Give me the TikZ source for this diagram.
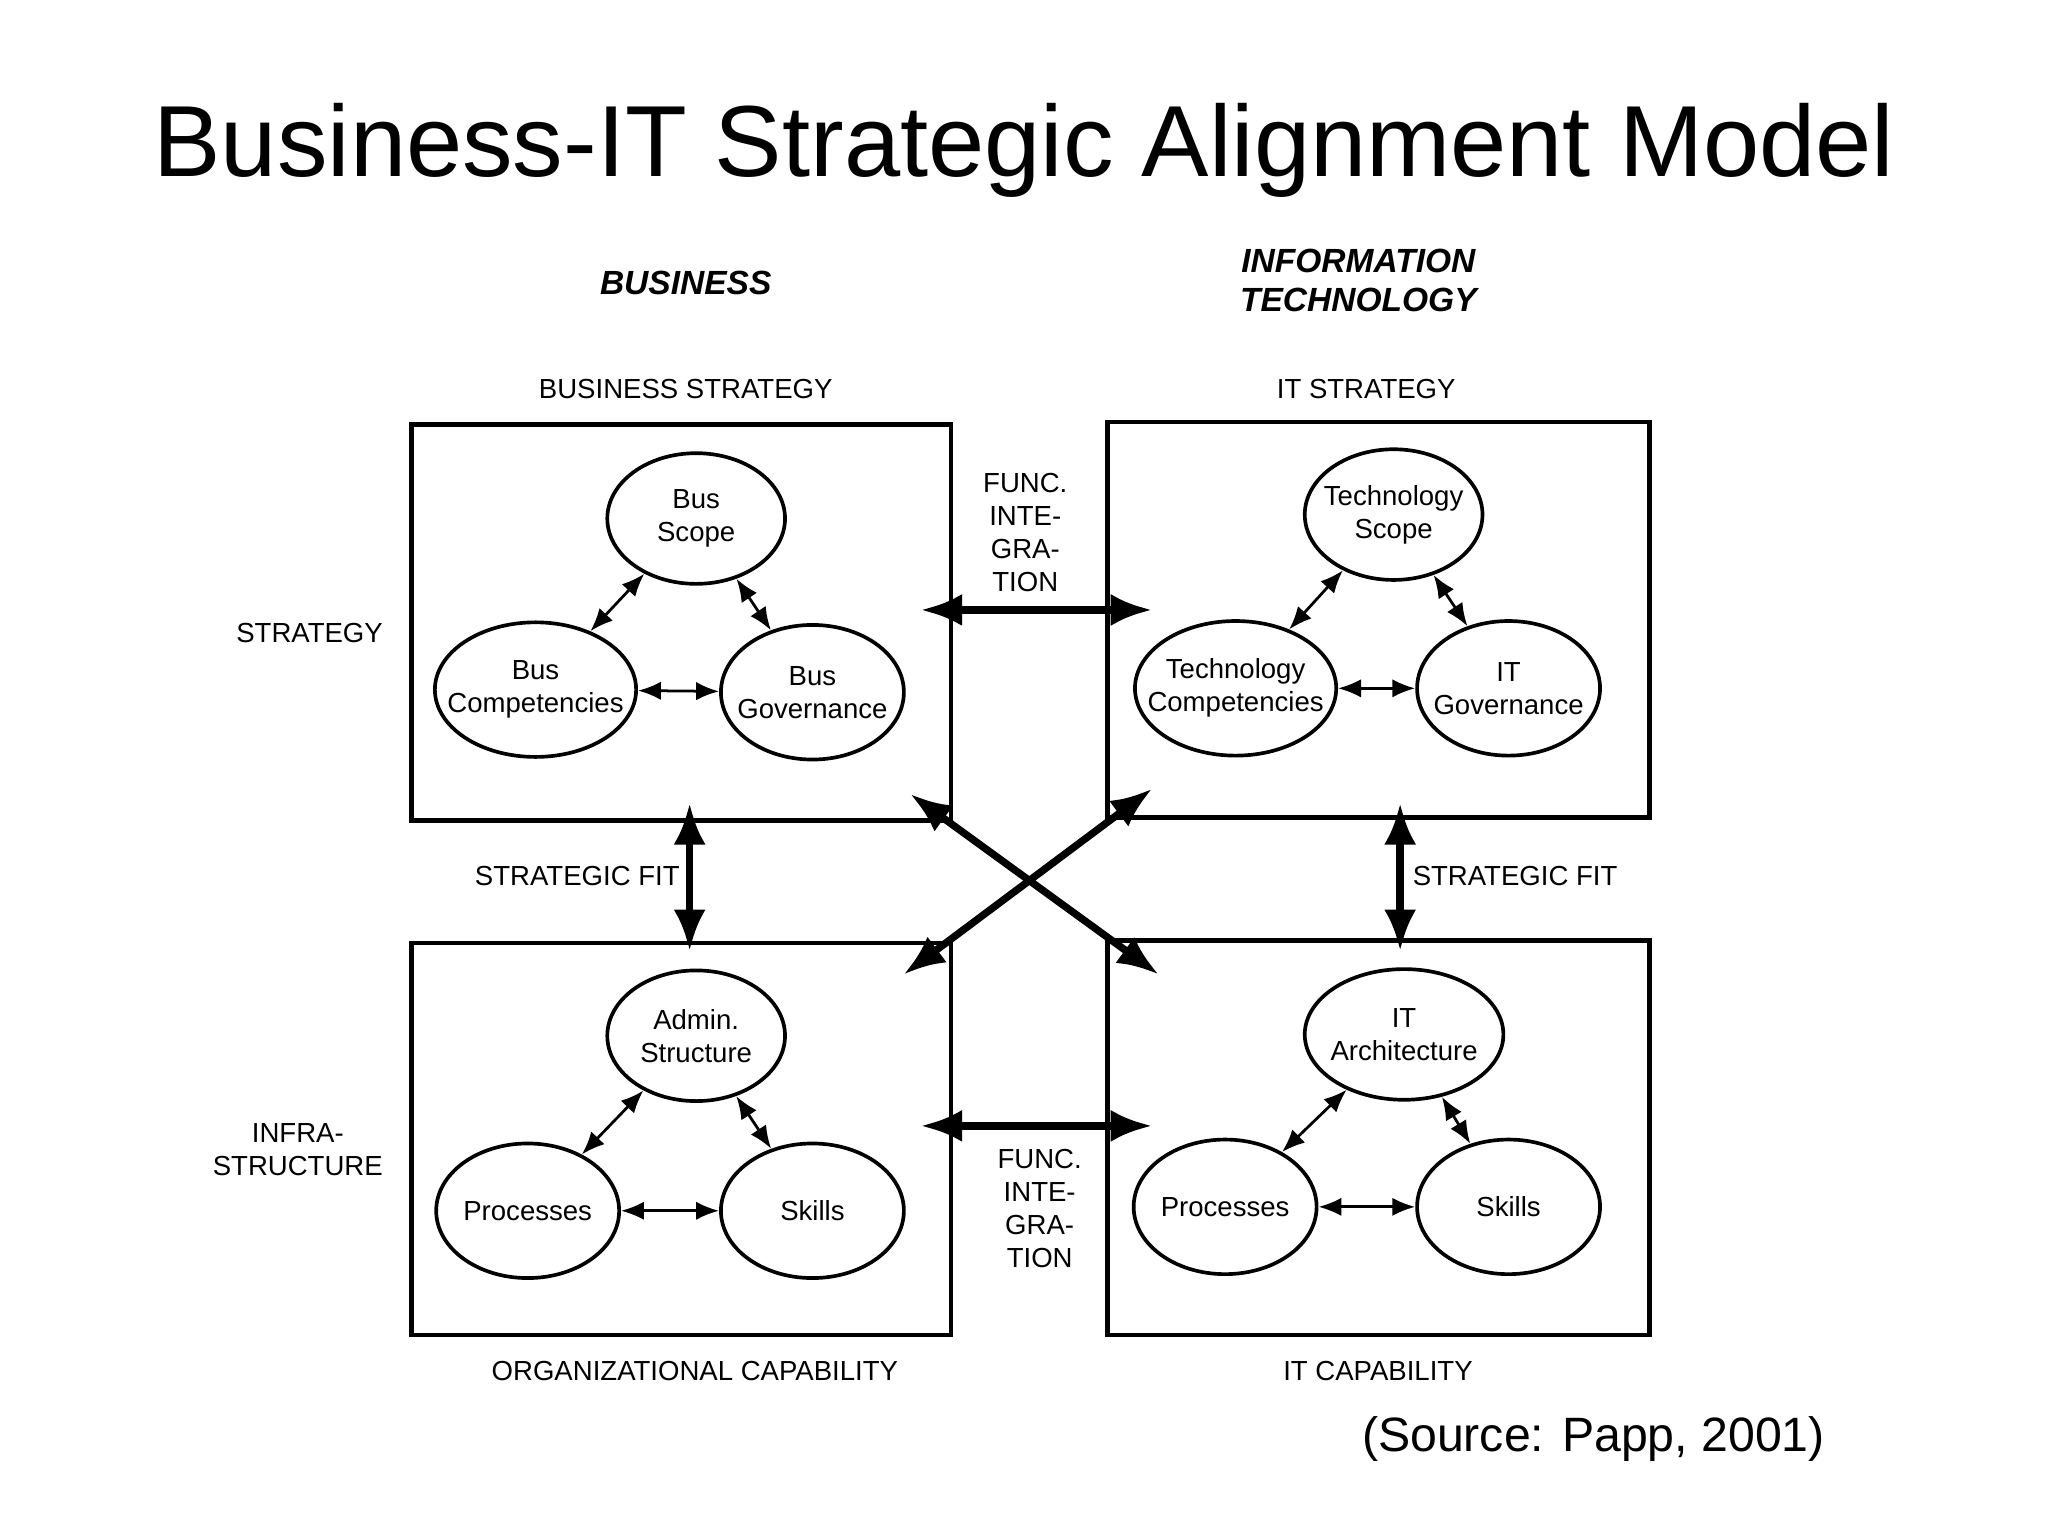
\documentclass[tikz,border=0pt]{standalone}
\usepackage{fontspec}
\setmainfont{Liberation Sans}
\usetikzlibrary{arrows.meta,shapes.geometric}
\begin{document}
\begin{tikzpicture}[x=0.01cm,y=-0.01cm,
  box/.style={draw,line width=1pt},
  lab/.style={font=\fontsize{6pt}{7.2pt}\selectfont,align=center},
  ell/.style 2 args={draw,ellipse,line width=0.8pt,inner sep=0pt,minimum width=#1,minimum height=1.03cm,label={[lab]center:#2}},
  head/.style={font=\fontsize{7.3pt}{8.5pt}\selectfont\bfseries\itshape,align=center},
  sm/.style={{Latex[length=5pt,width=4pt]}-{Latex[length=5pt,width=4pt]},line width=0.6pt},
  big/.style={{Latex[length=9pt,width=7pt]}-{Latex[length=9pt,width=7pt]},line width=1.6pt}]
\useasboundingbox (0,0) rectangle (1568,1176);
\node[font=\fontsize{22pt}{24pt}\selectfont] (title) at (784,115) {Business-IT Strategic Alignment Model};
\node[head] (hb) at (525,217) {BUSINESS};
\node[head] (hit) at (1040,215) {INFORMATION\\TECHNOLOGY};
\node[lab] (bs) at (525,298) {BUSINESS STRATEGY};
\node[lab] (its) at (1046,298) {IT STRATEGY};
\node[lab] (st) at (237,485) {STRATEGY};
\node[lab] (inf) at (228,880) {INFRA-\\STRUCTURE};
\node[lab] (oc) at (532,1050) {ORGANIZATIONAL CAPABILITY};
\node[lab] (itc) at (1055,1050) {IT CAPABILITY};
\node[lab] (sf1) at (442,671) {STRATEGIC FIT};
\node[lab] (sf2) at (1160,671) {STRATEGIC FIT};
\node[lab] (fi1) at (785,408) {FUNC.\\INTE-\\GRA-\\TION};
\node[lab] (fi2) at (796,925) {FUNC.\\INTE-\\GRA-\\TION};
\node[font=\fontsize{10.5pt}{12pt}\selectfont] (src) at (1220,1102) {(Source: Papp, 2001)};
\draw[box] (315,325) rectangle (728,628);
\draw[box] (848,323) rectangle (1263,626);
\draw[box] (315,722) rectangle (728,1022);
\draw[box] (848,720) rectangle (1263,1022);
\node[ell={1.36cm}{Bus\\Scope},minimum height=1cm] (a1) at (533,397) {};
\node[ell={1.54cm}{Bus\\Competencies}] (a2) at (410,528) {};
\node[ell={1.4cm}{Bus\\Governance}] (a3) at (622,530) {};
\node[ell={1.36cm}{Technology\\Scope},minimum height=1cm] (b1) at (1067,394) {};
\node[ell={1.54cm}{Technology\\Competencies}] (b2) at (946,527) {};
\node[ell={1.4cm}{IT\\Governance}] (b3) at (1155,527) {};
\node[ell={1.36cm}{Admin.\\Structure},minimum height=1cm] (c1) at (533,793) {};
\node[ell={1.4cm}{Processes}] (c2) at (404,927) {};
\node[ell={1.4cm}{Skills}] (c3) at (622,927) {};
\node[ell={1.52cm}{IT\\Architecture},minimum height=1cm] (d1) at (1075,792) {};
\node[ell={1.4cm}{Processes}] (d2) at (938,924) {};
\node[ell={1.4cm}{Skills}] (d3) at (1155,924) {};
\foreach \p in {a,b,c,d}{
  \draw[sm] (\p1) -- (\p2);
  \draw[sm] (\p1) -- (\p3);
  \draw[sm] (\p2) -- (\p3);
}
\coordinate (h1l) at (705,467); \coordinate (h1r) at (882,467);
\coordinate (h2l) at (705,862); \coordinate (h2r) at (882,862);
\coordinate (v1t) at (528,615); \coordinate (v1b) at (528,728);
\coordinate (v2t) at (1072,615); \coordinate (v2b) at (1072,728);
\coordinate (x1a) at (697,608); \coordinate (x1b) at (887,746);
\coordinate (x2a) at (882,604); \coordinate (x2b) at (692,746);
\draw[big] (h1l) -- (h1r);
\draw[big] (h2l) -- (h2r);
\draw[big] (v1t) -- (v1b);
\draw[big] (v2t) -- (v2b);
\draw[big] (x1a) -- (x1b);
\draw[big] (x2a) -- (x2b);
\end{tikzpicture}
\end{document}
